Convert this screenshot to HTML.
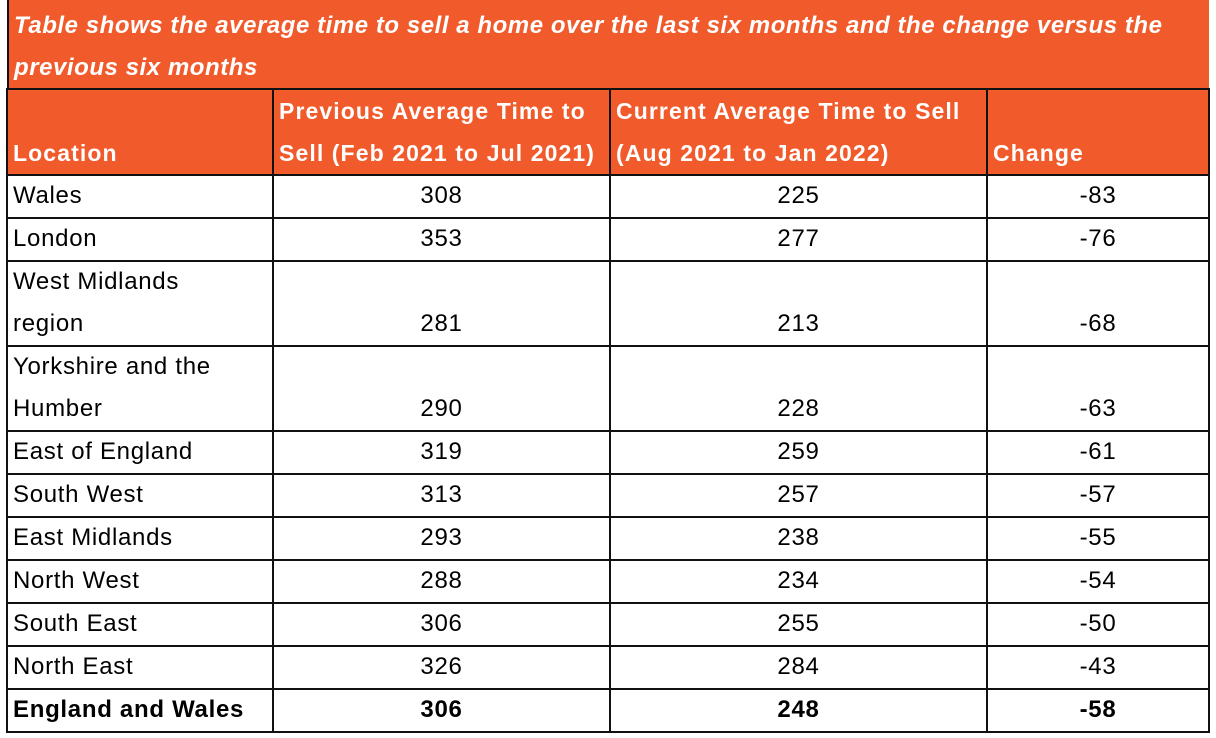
<!DOCTYPE html>
<html><head><meta charset="utf-8"><style>
body{margin:0;width:1216px;height:738px;background:#fff;position:relative;overflow:hidden;font-family:"Liberation Sans",sans-serif;}
.t{position:absolute;left:7px;top:0;width:1202px;height:90px;background:#F15A2B;border-left:2px solid #111;box-sizing:border-box;}
.t div{position:absolute;left:5px;color:#fff;font-weight:bold;font-style:italic;font-size:24px;white-space:nowrap;}
.c{position:absolute;box-sizing:border-box;border:2px solid #111;font-size:24px;letter-spacing:0.7px;line-height:42px;display:flex;align-items:flex-end;padding:0 5px 0 5px;color:#000;}
.h{background:#F15A2B;color:#fff;font-weight:bold;font-size:23px;letter-spacing:1.1px;line-height:42px;}
.n{justify-content:center;}
.b{font-weight:bold;}
</style></head><body>
<div class="t"><div style="top:12px;letter-spacing:0.55px">Table shows the average time to sell a home over the last six months and the change versus the</div><div style="top:54px;letter-spacing:0.55px">previous six months</div></div>
<div id="g"></div>
<script>
var xs=[7,273,610,987,1209];
var ys=[89,175,218,261,346,431,474,517,560,603,646,689,732];
var rows=[
["Location","Previous Average Time to<br>Sell (Feb 2021 to Jul 2021)","Current Average Time to Sell<br>(Aug 2021 to Jan 2022)","Change"],
["Wales","308","225","-83"],["London","353","277","-76"],["West Midlands<br>region","281","213","-68"],["Yorkshire and the<br>Humber","290","228","-63"],["East of England","319","259","-61"],["South West","313","257","-57"],["East Midlands","293","238","-55"],["North West","288","234","-54"],["South East","306","255","-50"],["North East","326","284","-43"],["England and Wales","306","248","-58"]];
var h="";
for(var r=0;r<rows.length;r++){for(var c=0;c<4;c++){
var cls="c"+(r==0?" h":"")+(r>0&&c>0?" n":"")+(r==rows.length-1?" b":"");
h+='<div class="'+cls+'" style="left:'+(xs[c]-1)+'px;top:'+(ys[r]-1)+'px;width:'+(xs[c+1]-xs[c]+2)+'px;height:'+(ys[r+1]-ys[r]+2)+'px"><span>'+rows[r][c]+'</span></div>';}}
document.getElementById("g").innerHTML=h;
</script>
</body></html>
